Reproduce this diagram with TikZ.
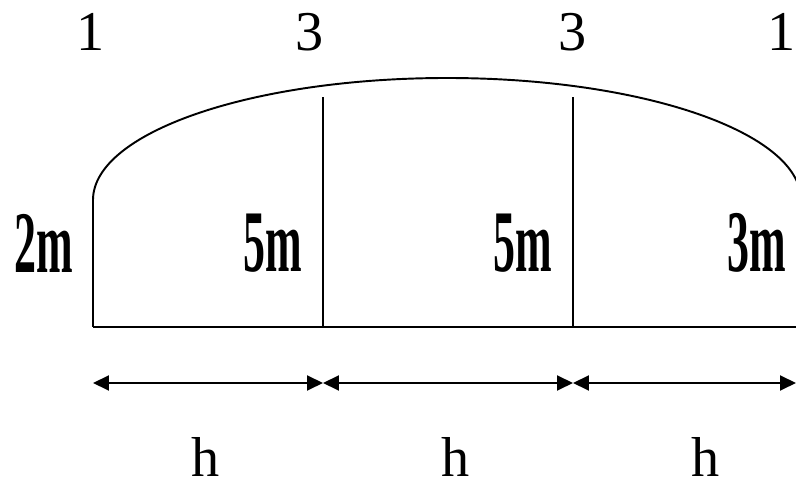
\documentclass[tikz,border=0pt]{standalone}
\usepackage{fontspec}
\setmainfont{Liberation Serif}
\usetikzlibrary{arrows.meta}
\newcommand{\hlen}[1]{\scalebox{0.5}[1]{\fontsize{50}{50}\selectfont\bfseries #1}}

\begin{document}
\begin{tikzpicture}[x=0.02cm,y=0.02cm,line width=1.1pt,
  num/.style={font=\fontsize{32}{32}\selectfont},
  span/.style={{Triangle[length=0.32cm,width=0.3cm]}-{Triangle[length=0.32cm,width=0.3cm]}}]
  \useasboundingbox (0,0) rectangle (796,487);
  % ground line and walls
  \coordinate (b0) at (93,160);
  \coordinate (b1) at (323,160);
  \coordinate (b2) at (573,160);
  \coordinate (b3) at (796,160);
  \coordinate (t0) at (93,287);
  \coordinate (t1) at (323,390);
  \coordinate (t2) at (573,390);
  \draw (b0) -- (b3);
  \draw (b0) -- (t0) arc[start angle=180,end angle=0,x radius=354,y radius=122];
  \draw (b1) -- (t1);
  \draw (b2) -- (t2);
  % spans
  \coordinate (d0) at (93,104);
  \coordinate (d1) at (323,104);
  \coordinate (d2) at (573,104);
  \coordinate (d3) at (796,104);
  \draw[span] (d0) -- (d1);
  \draw[span] (d1) -- (d2);
  \draw[span] (d2) -- (d3);
  % labels
  \node[num] (n1) at (91,455) {1};
  \node[num] (n2) at (310,455) {3};
  \node[num] (n3) at (573,455) {3};
  \node[num] (n4) at (782,455) {1};
  \node (m1) at (44,244) {\hlen{2m}};
  \node (m2) at (273,244) {\hlen{5m}};
  \node (m3) at (523,244) {\hlen{5m}};
  \node (m4) at (757,244) {\hlen{3m}};
  \node[num] (h1) at (206,30) {h};
  \node[num] (h2) at (456,30) {h};
  \node[num] (h3) at (706,30) {h};
\end{tikzpicture}
\end{document}
